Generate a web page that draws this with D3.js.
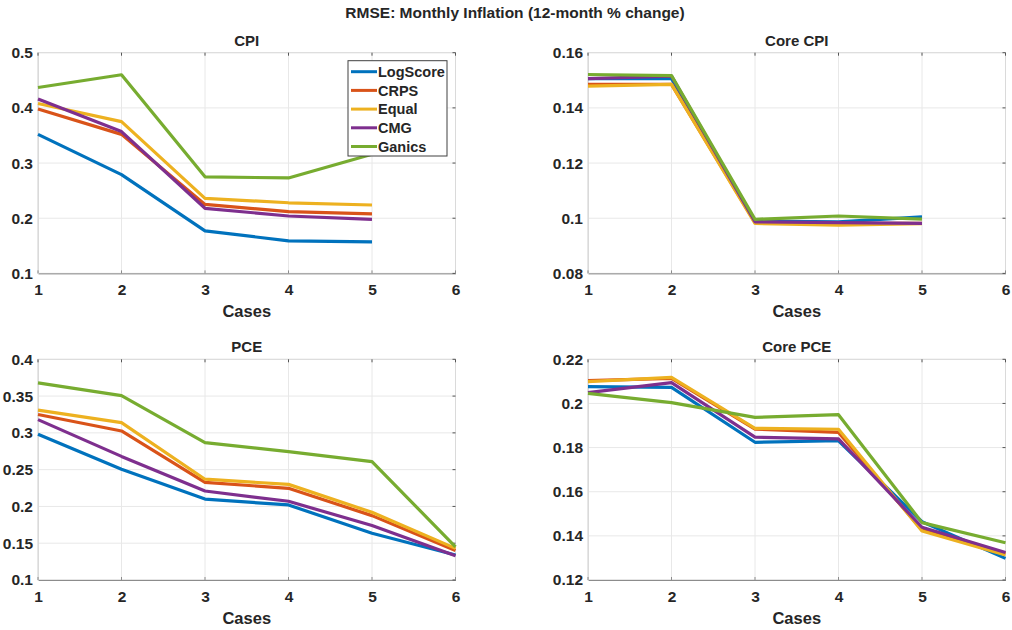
<!DOCTYPE html>
<html>
<head>
<meta charset="utf-8">
<script src="https://cdn.jsdelivr.net/npm/d3@7"></script>
<style>
	body { margin: 0; background: #fff; }
	text { font-family: "Liberation Sans", Arial, sans-serif; font-weight: bold; fill: #262626; }
</style>
</head>
<body>
<div id="chart"></div>
<script>
// Data
const methods = ['LogScore', 'CRPS', 'Equal', 'CMG', 'Ganics']
const colors = ['#0072BD', '#D95319', '#EDB120', '#7E2F8E', '#77AC30']
const xTicks = [1, 2, 3, 4, 5, 6]

// one row per method, one value per case
const cpi = [
	[0.352, 0.279, 0.177, 0.159, 0.157],
	[0.398, 0.352, 0.225, 0.212, 0.208],
	[0.408, 0.375, 0.236, 0.228, 0.224],
	[0.416, 0.357, 0.218, 0.204, 0.198],
	[0.437, 0.460, 0.275, 0.273, 0.316]
]
const coreCpi = [
	[0.1506, 0.1506, 0.0990, 0.0987, 0.1005],
	[0.1485, 0.1485, 0.0985, 0.0981, 0.0981],
	[0.1479, 0.1485, 0.0981, 0.0975, 0.0980],
	[0.1506, 0.1515, 0.0987, 0.0984, 0.0981],
	[0.1521, 0.1517, 0.0996, 0.1008, 0.0997]
]
const pce = [
	[0.298, 0.2505, 0.210, 0.202, 0.1635, 0.134],
	[0.325, 0.3026, 0.2328, 0.2246, 0.1875, 0.140],
	[0.331, 0.314, 0.237, 0.230, 0.192, 0.143],
	[0.318, 0.268, 0.221, 0.207, 0.174, 0.133],
	[0.368, 0.3506, 0.2867, 0.2745, 0.261, 0.145]
]
const corePce = [
	[0.2076, 0.2073, 0.1824, 0.1831, 0.1464, 0.1298],
	[0.2103, 0.2114, 0.1884, 0.1869, 0.1427, 0.1321],
	[0.2099, 0.2118, 0.1887, 0.1883, 0.1422, 0.1313],
	[0.2049, 0.2094, 0.1847, 0.1839, 0.1439, 0.1325],
	[0.2046, 0.2004, 0.1937, 0.1949, 0.1460, 0.1369]
]

const cpiTicks = [0.1, 0.2, 0.3, 0.4, 0.5]
const coreCpiTicks = [0.08, 0.1, 0.12, 0.14, 0.16]
const pceTicks = [0.1, 0.15, 0.2, 0.25, 0.3, 0.35, 0.4]
const corePceTicks = [0.12, 0.14, 0.16, 0.18, 0.2, 0.22]

const panels = [
	{ title: 'CPI', data: cpi, ticks: cpiTicks, left: 38, top: 52.7, legend: true },
	{ title: 'Core CPI', data: coreCpi, ticks: coreCpiTicks, left: 588, top: 52.7 },
	{ title: 'PCE', data: pce, ticks: pceTicks, left: 38, top: 359.3 },
	{ title: 'Core PCE', data: corePce, ticks: corePceTicks, left: 588, top: 359.3 }
]
const plotWidth = 417.5
const plotHeight = 220.7

// Create svg
const svg =
	d3.select('#chart')
		.append('svg')
		.attr('width', 1012)
		.attr('height', 630)

svg
	.append('text')
	.attr('x', 515)
	.attr('y', 18)
	.attr('text-anchor', 'middle')
	.style('font-size', '15.5px')
	.text('RMSE: Monthly Inflation (12-month % change)')

panels.forEach(panel => {
	const x = d3.scaleLinear().domain([1, 6]).range([0, plotWidth])
	const y = d3.scaleLinear()
		.domain(d3.extent(panel.ticks))
		.range([plotHeight, 0])

	const g = svg
		.append('g')
		.attr('transform', `translate(${panel.left},${panel.top})`)

	// grid
	g.append('g')
		.selectAll('line.gx')
		.data(xTicks)
		.enter()
		.append('line')
		.attr('x1', d => x(d)).attr('x2', d => x(d))
		.attr('y1', 0).attr('y2', plotHeight)
		.attr('stroke', '#e8e8e8')

	g.append('g')
		.selectAll('line.gy')
		.data(panel.ticks)
		.enter()
		.append('line')
		.attr('x1', 0).attr('x2', plotWidth)
		.attr('y1', d => y(d)).attr('y2', d => y(d))
		.attr('stroke', '#e8e8e8')

	// box
	g.append('rect')
		.attr('width', plotWidth)
		.attr('height', plotHeight)
		.attr('fill', 'none')
		.attr('stroke', '#dadada')

	// axes
	const xAxis = g.append('g')
		.attr('transform', `translate(0,${plotHeight})`)
		.call(d3.axisBottom(x).tickValues(xTicks).tickSize(0).tickPadding(11).tickFormat(d3.format('d')))
	xAxis.select('.domain').attr('stroke', '#8c8c8c')
	xAxis.selectAll('text')
		.style('font-size', '15.5px')
		.attr('fill', '#262626')

	const yAxis = g.append('g')
		.call(d3.axisLeft(y).tickValues(panel.ticks).tickSize(0).tickPadding(5).tickFormat(d => String(d)))
	yAxis.select('.domain').attr('stroke', '#dadada')
	yAxis.selectAll('text')
		.style('font-size', '15.5px')
		.attr('fill', '#262626')

	// mirrored tick marks on top and right
	g.append('g')
		.selectAll('line.tt')
		.data(xTicks)
		.enter()
		.append('line')
		.attr('x1', d => x(d)).attr('x2', d => x(d))
		.attr('y1', 0).attr('y2', 3)
		.attr('stroke', '#555')
	g.append('g')
		.selectAll('line.tr')
		.data(panel.ticks)
		.enter()
		.append('line')
		.attr('x1', plotWidth - 3).attr('x2', plotWidth)
		.attr('y1', d => y(d)).attr('y2', d => y(d))
		.attr('stroke', '#555')
	g.append('g')
		.selectAll('line.tb')
		.data(xTicks)
		.enter()
		.append('line')
		.attr('x1', d => x(d)).attr('x2', d => x(d))
		.attr('y1', plotHeight - 3).attr('y2', plotHeight)
		.attr('stroke', '#8c8c8c')

	// lines
	const line = d3.line()
		.x((d, i) => x(i + 1))
		.y(d => y(d))

	g.selectAll('path.series')
		.data(panel.data)
		.enter()
		.append('path')
		.attr('class', 'series')
		.attr('d', line)
		.attr('fill', 'none')
		.attr('stroke', (d, i) => colors[i])
		.attr('stroke-width', 3.2)
		.attr('stroke-linejoin', 'round')

	// title & label
	g.append('text')
		.attr('x', plotWidth / 2)
		.attr('y', -7)
		.attr('text-anchor', 'middle')
		.style('font-size', '15px')
		.text(panel.title)

	g.append('text')
		.attr('x', plotWidth / 2)
		.attr('y', plotHeight + 44)
		.attr('text-anchor', 'middle')
		.style('font-size', '16.5px')
		.text('Cases')

	if (panel.legend) {
		const legend = g.append('g')
			.attr('transform', `translate(${348 - panel.left},${60.7 - panel.top})`)

		legend.append('rect')
			.attr('width', 99)
			.attr('height', 95.3)
			.attr('fill', '#fff')
			.attr('stroke', '#404040')
			.attr('stroke-width', 1)

		const items = legend.selectAll('g.item')
			.data(methods)
			.enter()
			.append('g')
			.attr('class', 'item')
			.attr('transform', (d, i) => `translate(0,${11 + i * 18.7})`)

		items.append('line')
			.attr('x1', 3).attr('x2', 29)
			.attr('stroke', (d, i) => colors[i])
			.attr('stroke-width', 3)

		items.append('text')
			.attr('x', 30)
			.attr('dy', '0.36em')
			.style('font-size', '14.5px')
			.text(d => d)
	}
})
</script>
</body>
</html>
